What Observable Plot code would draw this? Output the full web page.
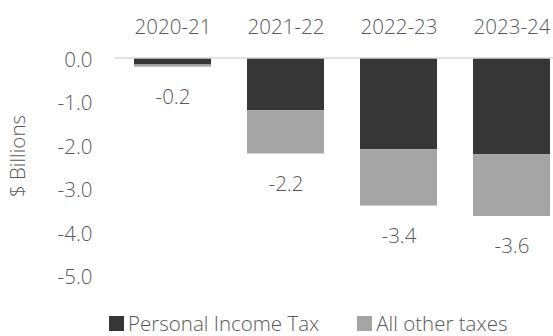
<!DOCTYPE html>
<html>
<head>
<meta charset="utf-8">
<script src="https://cdn.jsdelivr.net/npm/d3@7"></script>
<script src="https://cdn.jsdelivr.net/npm/@observablehq/plot@0.6"></script>
<style>
  html, body { margin: 0; padding: 0; background: #fff; }
  body { width: 553px; height: 336px; overflow: hidden; font-family: "Open Sans", sans-serif; }
  #legend { display: flex; align-items: center; height: 26px; padding-left: 109px; font-size: 20.5px; font-weight: 300; color: #595959; }
  #legend .item { display: flex; align-items: center; }
  #legend .sw { width: 15px; height: 15px; margin-right: 4px; }
  svg text { font-weight: 300; }
</style>
</head>
<body>
<div id="chart"></div>
<div id="legend"></div>
<script>
const years = ["2020-21", "2021-22", "2022-23", "2023-24"];
const seriesNames = ["Personal Income Tax", "All other taxes"];
const personalIncomeTax = [-0.15, -1.2, -2.1, -2.22];
const allOtherTaxes = [-0.05, -1.0, -1.3, -1.42];
const totalLabels = ["-0.2", "-2.2", "-3.4", "-3.6"];
const yTicks = [0, -1, -2, -3, -4, -5];
const colors = ["#363636", "#a5a5a5"];

const rows = [];
years.forEach((y, i) => {
  rows.push({year: y, series: seriesNames[0], value: personalIncomeTax[i]});
  rows.push({year: y, series: seriesNames[1], value: allOtherTaxes[i]});
});
const totals = years.map((y, i) => ({year: y, total: personalIncomeTax[i] + allOtherTaxes[i], label: totalLabels[i]}));

const font = "'Open Sans', sans-serif";
const fs = 20.5;
const chart = Plot.plot({
  width: 553,
  height: 310,
  marginTop: 58,
  marginBottom: 35,
  marginLeft: 115,
  marginRight: 0,
  style: {fontFamily: font, fontSize: fs + "px", color: "#595959", background: "#fff"},
  x: {domain: years, range: [115, 569], paddingInner: 0.32, paddingOuter: 0.16, axis: null},
  y: {domain: [-5, 0], axis: null},
  color: {domain: seriesNames, range: colors},
  marks: [
    Plot.barY(rows, {x: "year", y: "value", fill: "series", order: seriesNames}),
    Plot.ruleY([0], {stroke: "#d9d9d9", strokeWidth: 1.5, dy: -0.5}),
    Plot.axisY({ticks: yTicks, tickSize: 0, tickPadding: 23, tickFormat: d => d.toFixed(1), fill: "#595959", fontSize: fs, dy: 2, label: null}),
    Plot.text(years, {x: d => d, frameAnchor: "top", dy: -31, lineAnchor: "middle", fill: "#595959", fontSize: fs}),
    Plot.text(totals, {x: "year", y: "total", text: "label", dy: 30, lineAnchor: "middle", fill: "#595959", fontSize: fs}),
    Plot.text(["$ Billions"], {frameAnchor: "left", rotate: -90, textAnchor: "middle", dx: -97, dy: -11, fill: "#595959", fontSize: fs})
  ]
});
document.getElementById("chart").appendChild(chart);

const legend = document.getElementById("legend");
seriesNames.forEach((name, i) => {
  const item = document.createElement("div");
  item.className = "item";
  if (i > 0) item.style.marginLeft = "38px";
  const sw = document.createElement("div");
  sw.className = "sw";
  sw.style.background = colors[i];
  const label = document.createElement("span");
  label.textContent = name;
  item.appendChild(sw);
  item.appendChild(label);
  legend.appendChild(item);
});
</script>
</body>
</html>
